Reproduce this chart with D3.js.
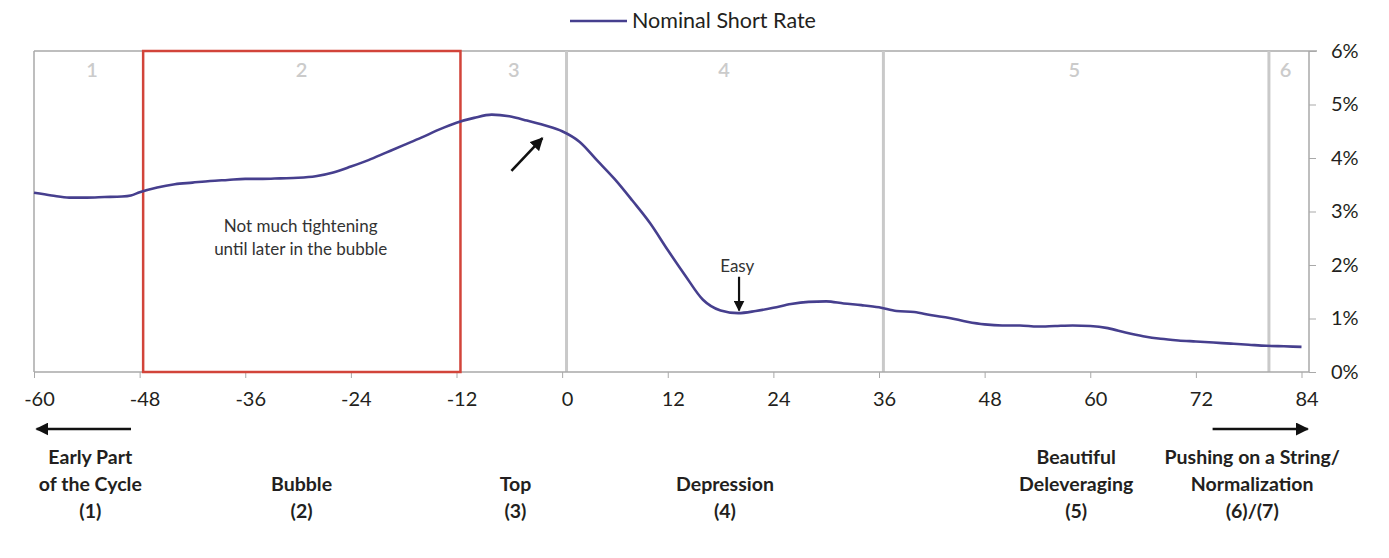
<!DOCTYPE html>
<html>
<head>
<meta charset="utf-8">
<script src="https://cdn.jsdelivr.net/npm/d3@7"></script>
<style>
  html, body { margin: 0; padding: 0; background: #fff; }
  svg { display: block; font-family: Lato, "Open Sans", sans-serif; }
</style>
</head>
<body>
<svg id="chart" width="1389" height="558"></svg>
<script>
// ---- data ----
const months = [-60,-58,-56,-54,-52,-50,-49,-48,-46,-44,-42,-40,-38,-36,-34,-32,-30,-28,-26,-24,-22,-20,-18,-16,-14,-12,-10,-8,-6,-4,-2,0,2,4,6,8,10,12,14,16,18,20,22,24,26,28,30,32,34,36,38,40,42,44,46,48,50,52,54,56,58,60,62,64,66,68,70,72,74,76,78,80,82,84];
const shortRate = [3.35,3.30,3.26,3.26,3.27,3.28,3.30,3.36,3.45,3.51,3.54,3.57,3.59,3.61,3.61,3.62,3.63,3.66,3.73,3.84,3.96,4.10,4.24,4.38,4.53,4.66,4.75,4.81,4.78,4.70,4.61,4.50,4.30,3.95,3.60,3.20,2.78,2.28,1.80,1.35,1.15,1.10,1.14,1.20,1.27,1.31,1.32,1.28,1.25,1.21,1.14,1.12,1.06,1.01,0.94,0.89,0.87,0.87,0.85,0.86,0.87,0.86,0.82,0.74,0.67,0.62,0.59,0.57,0.55,0.53,0.51,0.49,0.48,0.47];
const seriesName = "Nominal Short Rate";
const xTicks = [-60,-48,-36,-24,-12,0,12,24,36,48,60,72,84];
const yTicks = [0,1,2,3,4,5,6];
const phaseBoundaries = [0.5, 36.5, 80.3];
const phaseNumbers = ["1","2","3","4","5","6"];
const phaseNumberAt = [-53.4,-29.6,-5.5,18.4,58.2,82.2];
const bubbleBox = [-47.6, -11.55];
const phaseNames = [
  ["Early Part","of the Cycle","(1)"],
  ["Bubble","(2)"],
  ["Top","(3)"],
  ["Depression","(4)"],
  ["Beautiful","Deleveraging","(5)"],
  ["Pushing on a String/","Normalization","(6)/(7)"]
];
const phaseNameAt = [-53.6,-29.6,-5.3,18.5,58.4,78.4];
const noteLines = ["Not much tightening","until later in the bubble"];
const easyLabel = "Easy";

// ---- layout ----
const svg = d3.select("#chart");
const x = d3.scaleLinear().domain([-60, 84]).range([34, 1301.5]);
const y = d3.scaleLinear().domain([0, 6]).range([372, 51]);
const xMin = -60, xMax = x.invert(1309);
const lineColor = "#463f8e";
const frameColor = "#a9a9a9";
const sepColor = "#c9c9c9";
const textColor = "#231f20";

// markers
const defs = svg.append("defs");
defs.append("marker").attr("id","ah").attr("viewBox","0 0 10 10")
  .attr("refX",9).attr("refY",5).attr("markerWidth",5).attr("markerHeight",5)
  .attr("markerUnits","strokeWidth").attr("orient","auto")
  .append("path").attr("d","M0,0 L10,5 L0,10 Z").attr("fill","#111");

// frame (top + left)
svg.append("line").attr("x1",x(xMin)).attr("x2",x(xMax)+8).attr("y1",y(6)).attr("y2",y(6))
  .attr("stroke",frameColor).attr("stroke-width",1.5);
svg.append("line").attr("x1",x(xMin)).attr("x2",x(xMin)).attr("y1",y(6)).attr("y2",y(0))
  .attr("stroke",frameColor).attr("stroke-width",1.5);

// phase separators
svg.selectAll(".sep").data(phaseBoundaries).enter().append("line")
  .attr("x1",d=>x(d)).attr("x2",d=>x(d)).attr("y1",y(6)).attr("y2",y(0))
  .attr("stroke",sepColor).attr("stroke-width",3);

// phase numbers
svg.selectAll(".pnum").data(phaseNumbers).enter().append("text")
  .attr("x",(d,i)=>x(phaseNumberAt[i])).attr("y",77)
  .attr("text-anchor","middle").attr("font-size",20).attr("font-weight",600)
  .attr("fill","#cbcbcb").text(d=>d);

// x axis
const xAxis = d3.axisBottom(x).tickValues(xTicks).tickSize(6).tickPadding(14).tickFormat(d=>String(d));
const gx = svg.append("g").attr("transform",`translate(0,${y(0)})`).call(xAxis);
gx.select(".domain").attr("d",`M${x(xMin)},0H${x(xMax)}`).attr("stroke",frameColor).attr("stroke-width",1.5);
gx.selectAll(".tick line").attr("stroke",frameColor);
gx.selectAll(".tick text").attr("font-size",20).attr("fill",textColor).attr("dx",5)
  .attr("font-family","Lato, sans-serif").text(d=>d<0?"-"+Math.abs(d):d);

// y axis (right)
const yAxis = d3.axisRight(y).tickValues(yTicks).tickSize(7).tickPadding(15).tickFormat(d=>d+"%");
const gy = svg.append("g").attr("transform",`translate(${x(xMax)},0)`).call(yAxis);
gy.select(".domain").attr("stroke",frameColor).attr("stroke-width",1.5).attr("d",`M0,${y(6)}V${y(0)}`);
gy.selectAll(".tick line").attr("stroke",frameColor);
gy.selectAll(".tick text").attr("font-size",20).attr("fill",textColor).attr("font-family","Lato, sans-serif");

// bubble box
svg.append("rect").attr("x",x(bubbleBox[0])).attr("y",y(6))
  .attr("width",x(bubbleBox[1])-x(bubbleBox[0])).attr("height",y(0)-y(6))
  .attr("fill","none").attr("stroke","#d2443a").attr("stroke-width",2.5);

// series line
const pts = months.map((m,i)=>[m, shortRate[i]]);
svg.append("path").datum(pts)
  .attr("d", d3.line().x(d=>x(d[0])).y(d=>y(d[1])).curve(d3.curveMonotoneX))
  .attr("fill","none").attr("stroke",lineColor).attr("stroke-width",2.6);

// note text
svg.selectAll(".note").data(noteLines).enter().append("text")
  .attr("x",x(-29.7)).attr("y",(d,i)=>232+i*23).attr("text-anchor","middle")
  .attr("font-size",17).attr("fill","#333").text(d=>d);

// top arrow
svg.append("line").attr("x1",x(-5.76)).attr("y1",y(3.76)).attr("x2",x(-2.24)).attr("y2",y(4.37))
  .attr("stroke","#111").attr("stroke-width",2.6).attr("marker-end","url(#ah)");

// easy arrow
svg.append("text").attr("x",x(19.9)).attr("y",272).attr("text-anchor","middle")
  .attr("font-size",17).attr("fill","#333").text(easyLabel);
svg.append("line").attr("x1",x(20.1)).attr("y1",y(1.78)).attr("x2",x(20.1)).attr("y2",y(1.15))
  .attr("stroke","#111").attr("stroke-width",2.2).attr("marker-end","url(#ah)");

// bottom arrows
svg.append("line").attr("x1",x(-48.98)).attr("x2",x(-59.7)).attr("y1",429).attr("y2",429)
  .attr("stroke","#111").attr("stroke-width",2.6).attr("marker-end","url(#ah)");
svg.append("line").attr("x1",x(73.9)).attr("x2",x(84.7)).attr("y1",429).attr("y2",429)
  .attr("stroke","#111").attr("stroke-width",2.6).attr("marker-end","url(#ah)");

// phase names
phaseNames.forEach((lines,i)=>{
  const n = lines.length;
  const t = svg.append("text").attr("text-anchor","middle").attr("font-size",19.5)
    .attr("font-weight",700).attr("fill",textColor);
  lines.forEach((ln,j)=>{
    t.append("tspan").attr("x",x(phaseNameAt[i])).attr("y",464+(3-n+j)*27).text(ln);
  });
});

// legend
svg.append("line").attr("x1",570).attr("x2",627).attr("y1",21).attr("y2",21)
  .attr("stroke",lineColor).attr("stroke-width",2.6);
svg.append("text").attr("x",632).attr("y",28).attr("font-size",21.5).attr("fill",textColor).text(seriesName);
</script>
</body>
</html>
